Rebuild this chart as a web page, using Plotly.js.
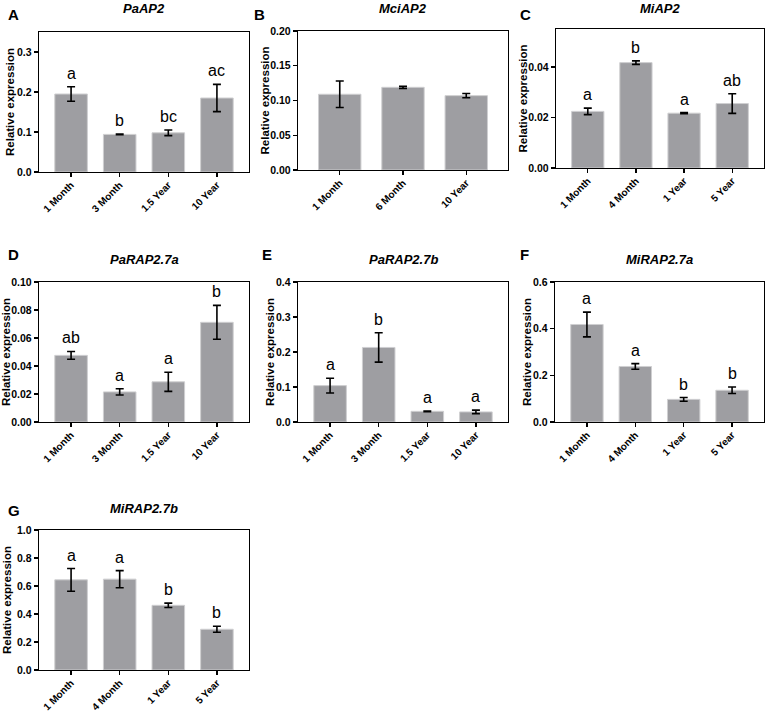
<!DOCTYPE html>
<html>
<head>
<meta charset="utf-8">
<script src="https://cdn.plot.ly/plotly-3.0.1.min.js"></script>
<style>html,body{margin:0;padding:0;background:#fff;}#chart{width:767px;height:711px;}</style>
</head>
<body>
<div id="chart"></div>
<script>
// Panel A: PaAP2
const catsA = ["1 Month", "3 Month", "1.5 Year", "10 Year"];
const valsA = [0.195, 0.094, 0.098, 0.185];
const errsA = [0.018, 0.001, 0.007, 0.034];
const lettersA = ["a", "b", "bc", "ac"];
// Panel B: MciAP2
const catsB = ["1 Month", "6 Month", "10 Year"];
const valsB = [0.109, 0.119, 0.107];
const errsB = [0.019, 0.0015, 0.003];
const lettersB = ["", "", ""];
// Panel C: MiAP2
const catsC = ["1 Month", "4 Month", "1 Year", "5 Year"];
const valsC = [0.0224, 0.0417, 0.0217, 0.0255];
const errsC = [0.0013, 0.0007, 0.0002, 0.0039];
const lettersC = ["a", "b", "a", "ab"];
// Panel D: PaRAP2.7a
const catsD = ["1 Month", "3 Month", "1.5 Year", "10 Year"];
const valsD = [0.0476, 0.0215, 0.0287, 0.0712];
const errsD = [0.0028, 0.0022, 0.0068, 0.0121];
const lettersD = ["ab", "a", "a", "b"];
// Panel E: PaRAP2.7b
const catsE = ["1 Month", "3 Month", "1.5 Year", "10 Year"];
const valsE = [0.104, 0.213, 0.0305, 0.0288];
const errsE = [0.021, 0.042, 0.001, 0.005];
const lettersE = ["a", "b", "a", "a"];
// Panel F: MiRAP2.7a
const catsF = ["1 Month", "4 Month", "1 Year", "5 Year"];
const valsF = [0.418, 0.238, 0.097, 0.136];
const errsF = [0.053, 0.012, 0.008, 0.014];
const lettersF = ["a", "a", "b", "b"];
// Panel G: MiRAP2.7b
const catsG = ["1 Month", "4 Month", "1 Year", "5 Year"];
const valsG = [0.644, 0.649, 0.462, 0.291];
const errsG = [0.081, 0.061, 0.016, 0.021];
const lettersG = ["a", "a", "b", "b"];

const titles = ["PaAP2", "MciAP2", "MiAP2", "PaRAP2.7a", "PaRAP2.7b", "MiRAP2.7a", "MiRAP2.7b"];
const panelLabels = ["A", "B", "C", "D", "E", "F", "G"];
const yTitle = "Relative expression";

const W = 767, H = 711;
const FONT = "Liberation Sans, Arial, Helvetica, sans-serif";
const panels = [
  {cats: catsA, vals: valsA, errs: errsA, letters: lettersA, box: [39, 249, 32, 172], yr: [0, 0.35], dtick: 0.1, fmt: ".1f", lab: [6, 14], tY: 9, yt: 10},
  {cats: catsB, vals: valsB, errs: errsB, letters: lettersB, box: [298, 508, 31, 170], yr: [0, 0.20], dtick: 0.05, fmt: ".2f", lab: [252, 14], tY: 9, yt: 265},
  {cats: catsC, vals: valsC, errs: errsC, letters: lettersC, box: [556, 764, 29, 168], yr: [0, 0.055], dtick: 0.02, fmt: ".2f", lab: [518, 14], tY: 9, yt: 522},
  {cats: catsD, vals: valsD, errs: errsD, letters: lettersD, box: [39, 249, 282, 422], yr: [0, 0.10], dtick: 0.02, fmt: ".2f", lab: [6, 254], tY: 259, yt: 6},
  {cats: catsE, vals: valsE, errs: errsE, letters: lettersE, box: [298, 508, 282, 422], yr: [0, 0.40], dtick: 0.1, fmt: ".1f", lab: [260, 254], tY: 259, yt: 270},
  {cats: catsF, vals: valsF, errs: errsF, letters: lettersF, box: [555, 764, 282, 422], yr: [0, 0.60], dtick: 0.2, fmt: ".1f", lab: [518, 254], tY: 259, yt: 527},
  {cats: catsG, vals: valsG, errs: errsG, letters: lettersG, box: [39, 249, 530, 670], yr: [0, 1.0], dtick: 0.2, fmt: ".1f", lab: [6, 510], tY: 508, yt: 7}
];

const data = [];
const layout = {
  width: W, height: H,
  margin: {l: 0, r: 0, t: 0, b: 0},
  paper_bgcolor: "#ffffff", plot_bgcolor: "#ffffff",
  showlegend: false,
  bargap: 0.33,
  font: {family: FONT, color: "#000"},
  annotations: []
};

panels.forEach((p, i) => {
  const n = i + 1;
  const xa = "x" + (n === 1 ? "" : n), ya = "y" + (n === 1 ? "" : n);
  const xk = "xaxis" + (n === 1 ? "" : n), yk = "yaxis" + (n === 1 ? "" : n);
  data.push({
    type: "bar", x: p.cats, y: p.vals, xaxis: xa, yaxis: ya,
    marker: {color: "#9e9ea2", line: {color: "#cfcfd1", width: 1}},
    error_y: {type: "data", array: p.errs, visible: true, color: "#000", thickness: 1.6, width: 4},
    hoverinfo: "skip"
  });
  const [x0, x1, y0, y1] = p.box;
  const nc = p.cats.length;
  layout[xk] = {
    domain: [x0 / W, x1 / W], anchor: ya, type: "category",
    range: [-0.66, nc - 0.34],
    showline: true, mirror: true, linecolor: "#000", linewidth: 1.3,
    ticks: "outside", ticklen: 4, tickwidth: 1.2, tickcolor: "#000",
    tickangle: -45, showgrid: false, zeroline: false, ticklabelstandoff: -2,
    tickfont: {family: FONT, size: 10, weight: "bold", color: "#000"}
  };
  layout[yk] = {
    domain: [1 - y1 / H, 1 - y0 / H], anchor: xa,
    range: p.yr, dtick: p.dtick, tick0: 0, tickformat: p.fmt,
    showline: true, mirror: true, linecolor: "#000", linewidth: 1.3,
    ticks: "outside", ticklen: 4, tickwidth: 1.2, tickcolor: "#000",
    showgrid: false, zeroline: false,
    tickfont: {family: FONT, size: 10.5, weight: "bold", color: "#000"}
  };
  // y-axis title
  layout.annotations.push({
    xref: "paper", yref: "paper", x: p.yt / W, y: 1 - ((y0 + y1) / 2) / H,
    text: "<b>" + yTitle + "</b>", textangle: -90, showarrow: false,
    xanchor: "center", yanchor: "middle",
    font: {family: FONT, size: 11.5, color: "#000"}
  });
  // significance letters
  p.letters.forEach((L, k) => {
    if (!L) return;
    layout.annotations.push({
      xref: xa, yref: ya, x: p.cats[k], y: p.vals[k] + p.errs[k],
      text: L, showarrow: false, yanchor: "bottom", yshift: 3,
      font: {family: FONT, size: 16, color: "#000"}
    });
  });
  // panel title
  layout.annotations.push({
    xref: "paper", yref: "paper", x: ((x0 + x1) / 2) / W, y: 1 - p.tY / H,
    text: "<b><i>" + titles[i] + "</i></b>", showarrow: false,
    xanchor: "center", yanchor: "middle",
    font: {family: FONT, size: 13, color: "#000"}
  });
  // panel letter
  layout.annotations.push({
    xref: "paper", yref: "paper", x: p.lab[0] / W, y: 1 - p.lab[1] / H,
    text: "<b>" + panelLabels[i] + "</b>", showarrow: false,
    xanchor: "left", yanchor: "middle",
    font: {family: FONT, size: 15, color: "#000"}
  });
});

Plotly.newPlot("chart", data, layout, {displayModeBar: false, staticPlot: true});
</script>
</body>
</html>
